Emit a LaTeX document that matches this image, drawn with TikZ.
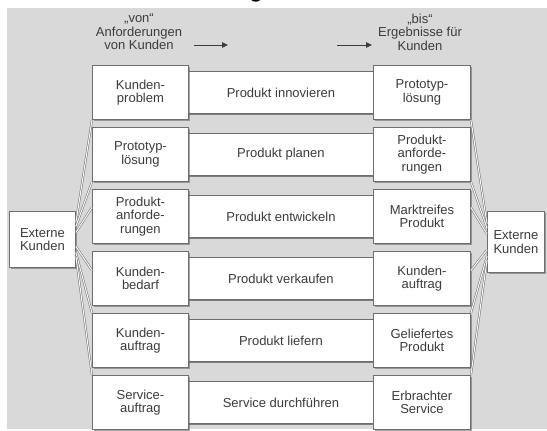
\documentclass[tikz,border=0pt]{standalone}
\usepackage{fontspec}
\setmainfont{Liberation Sans}
\usetikzlibrary{arrows.meta,shadows}
\definecolor{bg}{HTML}{D9D9D9}
\definecolor{ink}{HTML}{3C3C3C}
\definecolor{edge}{HTML}{6E6E6E}

\begin{document}
\begin{tikzpicture}[x=1pt,y=-1pt,
  font=\fontsize{13}{13.5}\selectfont, text=ink,
  box/.style={draw=edge, line width=0.9pt, fill=white, align=center,
    inner sep=0pt, anchor=north west,
    drop shadow={shadow xshift=1.2pt, shadow yshift=-1.4pt, opacity=0.55, fill=gray!75!black}},
  bar/.style={box, drop shadow={shadow xshift=0pt, shadow yshift=-1.4pt, opacity=0.45, fill=gray!75!black}},
  link/.style={draw=edge, line width=0.5pt, double=white!92!gray, double distance=1.1pt},
  arr/.style={draw=ink, line width=0.8pt, -{Triangle[length=6pt,width=5.5pt]}},
  hdr/.style={align=center, inner sep=0pt, font=\fontsize{13}{13.5}\selectfont}]

\useasboundingbox (0,0) rectangle (547,431);
\fill[white] (0,0) rectangle (547,431);
\fill[bg] (7,8) rectangle (547,429);

% descender of the heading line above the panel
\begin{scope}
  \clip (0,0) rectangle (547,8);
  \node[text=black, font=\fontsize{22}{22}\bfseries\selectfont, anchor=base, inner sep=0pt] (head) at (256,-2) {g};
\end{scope}

% header: "von" / "bis"
\node[hdr] (von) at (139,32) {„von“\\Anforderungen\\von Kunden};
\node[hdr] (bis) at (420,32) {„bis“\\Ergebnisse für\\Kunden};
\coordinate (vonA) at (194,45);
\coordinate (vonB) at (228,45);
\coordinate (bisA) at (337,45);
\coordinate (bisB) at (372,45);
\draw[arr] (vonA) -- (vonB);
\draw[arr] (bisA) -- (bisB);

% process rows: input | process | output
\foreach \i/\l/\m/\r in {
  1/{Kunden-\\problem}/{Produkt innovieren}/{Prototyp-\\lösung},
  2/{Prototyp-\\lösung}/{Produkt planen}/{Produkt-\\anforde-\\rungen},
  3/{Produkt-\\anforde-\\rungen}/{Produkt entwickeln}/{Marktreifes\\Produkt},
  4/{Kunden-\\bedarf}/{Produkt verkaufen}/{Kunden-\\auftrag},
  5/{Kunden-\\auftrag}/{Produkt liefern}/{Geliefertes\\Produkt},
  6/{Service-\\auftrag}/{Service durchführen}/{Erbrachter\\Service}} {
  \pgfmathsetmacro\top{65+62*(\i-1)}
  \node[bar, minimum width=187pt, minimum height=42pt] (M\i) at (187,\top+6) {\m};
  \node[box, minimum width=96pt, minimum height=54pt] (L\i) at (92,\top) {\l};
  \node[box, minimum width=97pt, minimum height=54pt] (R\i) at (373,\top) {\r};
}

% external customers
\node[box, minimum width=66pt, minimum height=56pt] (EL) at (9,211) {Externe\\Kunden};
\node[box, minimum width=57pt, minimum height=61pt] (ER) at (487,211) {Externe\\Kunden};

% fan of links to the rows
\draw[link] ([yshift=17pt]EL.east) -- (L1.south west);
\draw[link] ([yshift=13pt]EL.east) -- (L2.south west);
\draw[link] ([yshift=7pt]EL.east) -- ([yshift=9pt]L3.west);
\draw[link] ([yshift=-7pt]EL.east) -- ([yshift=8pt]L4.west);
\draw[link] ([yshift=-13pt]EL.east) -- (L5.north west);
\draw[link] ([yshift=-17pt]EL.east) -- (L6.north west);

\draw[link] (R1.south east) -- ([yshift=18pt]ER.west);
\draw[link] (R2.south east) -- ([yshift=14pt]ER.west);
\draw[link] ([yshift=9pt]R3.east) -- ([yshift=8pt]ER.west);
\draw[link] ([yshift=8pt]R4.east) -- ([yshift=-8pt]ER.west);
\draw[link] (R5.north east) -- ([yshift=-14pt]ER.west);
\draw[link] (R6.north east) -- ([yshift=-18pt]ER.west);
\end{tikzpicture}
\end{document}
